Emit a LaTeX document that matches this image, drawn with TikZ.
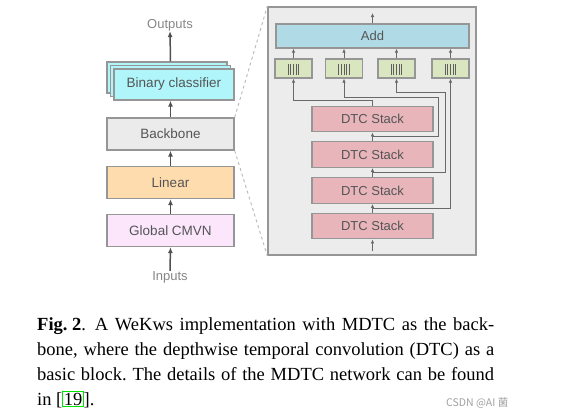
\documentclass[tikz,border=0pt]{standalone}
\usepackage{fontspec}
\setmainfont{Liberation Serif}
\newfontfamily\diagfont{Liberation Sans}
\newfontfamily\cjkfont{Noto Sans CJK SC}
\usetikzlibrary{arrows.meta,calc}
\definecolor{bordergray}{RGB}{150,150,150}
\definecolor{labelgray}{RGB}{85,85,85}
\definecolor{iogray}{RGB}{135,135,135}
\definecolor{arrgray}{RGB}{80,80,80}
\definecolor{parrgray}{RGB}{105,105,105}
\definecolor{dashgray}{RGB}{185,185,185}
\definecolor{panelgray}{RGB}{236,236,236}
\definecolor{cmvnpink}{RGB}{252,230,252}
\definecolor{linorange}{RGB}{254,220,174}
\definecolor{bbgray}{RGB}{235,235,235}
\definecolor{bccyan}{RGB}{175,245,250}
\definecolor{addblue}{RGB}{176,219,230}
\definecolor{grnbox}{RGB}{217,230,192}
\definecolor{dtcpink}{RGB}{232,181,187}
\definecolor{tickgray}{RGB}{95,95,95}
\definecolor{linkgreen}{RGB}{0,230,0}
\definecolor{wmgray}{RGB}{160,160,160}
\begin{document}
\frenchspacing
\begin{tikzpicture}[x=1pt,y=-1pt,
  box/.style={draw=bordergray, line width=1.4pt, inner sep=0pt,
    font=\diagfont\fontsize{13.5}{15}\selectfont, text=labelgray},
  leftbox/.style={box, minimum width=127pt, minimum height=32pt},
  bcbox/.style={box, fill=bccyan, minimum width=120pt, minimum height=31pt},
  iotext/.style={inner sep=0pt, font=\diagfont\fontsize{13}{15}\selectfont, text=iogray},
  larr/.style={draw=arrgray, line width=1.5pt, -{Latex[length=6pt,width=5pt]}},
  parr/.style={draw=parrgray, line width=1pt, -{Latex[length=4pt,width=3.6pt]}},
  dtcbox/.style={box, fill=dtcpink, minimum width=121pt, minimum height=25.5pt, font=\diagfont\fontsize{13}{15}\selectfont},
  gbox/.style={box, fill=grnbox, minimum width=37pt, minimum height=19pt},
  captext/.style={anchor=base west, inner sep=0pt, font=\fontsize{18.5}{25}\selectfont}
]
\useasboundingbox[fill=white] (0,0) rectangle (574,416);

% ---------- left column ----------
\node[leftbox, fill=cmvnpink] (cmvn) at (170.5,230.5) {Global CMVN};
\node[leftbox, fill=linorange] (lin) at (170.5,182.5) {Linear};
\node[leftbox, fill=bbgray] (bb) at (170.5,134) {Backbone};
\node[bcbox] (bc3) at (167,77.5) {};
\node[bcbox] (bc2) at (170.5,81) {};
\node[bcbox] (bc1) at (174,84.5) {Binary classifier};
\node[iotext] (outp) at (170,25) {Outputs};
\node[iotext] (inp) at (170,277) {Inputs};

\draw[larr] (inp.north) -- (cmvn.south);
\draw[larr] (cmvn.north) -- (lin.south);
\draw[larr] (lin.north) -- (bb.south);
\draw[larr] (bb.north) -- (bb.north |- bc1.south);
\draw[larr] (bb.north |- bc3.north) -- (outp.south);

% ---------- panel ----------
\node[draw=bordergray, line width=1.4pt, fill=panelgray, minimum width=208pt, minimum height=248pt, inner sep=0pt] (panel) at (372,131) {};
\draw[dashgray, line width=0.9pt, dashed] (bb.north east) -- (panel.north west);
\draw[dashgray, line width=0.9pt, dashed] (bb.south east) -- (panel.south west);

\node[box, fill=addblue, minimum width=193pt, minimum height=24pt, font=\diagfont\fontsize{13}{15}\selectfont] (add) at (372.5,36) {Add};
\node[gbox] (g1) at (293.5,68.5) {};
\node[gbox] (g2) at (344,68.5) {};
\node[gbox] (g3) at (396.5,68.5) {};
\node[gbox] (g4) at (450.5,68.5) {};
\foreach \g in {g1,g2,g3,g4}{
  \foreach \d in {-5.4,-2.7,0,2.7,5.4}{
    \draw[tickgray, line width=0.9pt] ($(\g.center)+(\d,-4.5)$) -- ($(\g.center)+(\d,6.5)$);
  }
}
\node[dtcbox] (s1) at (372.5,119) {DTC Stack};
\node[dtcbox] (s2) at (372.5,154.5) {DTC Stack};
\node[dtcbox] (s3) at (372.5,190.5) {DTC Stack};
\node[dtcbox] (s4) at (372.5,226) {DTC Stack};

\coordinate (addout) at (372.5,13);
\coordinate (in4) at (372.5,251);
\draw[parr] (add.north) -- (addout);
\foreach \g in {g1,g2,g3,g4}{
  \draw[parr] (\g.north) -- (\g.north |- add.south);
}
\draw[parr] (in4) -- (s4.south);
\draw[parr] (s4.north) -- (s3.south);
\draw[parr] (s3.north) -- (s2.south);
\draw[parr] (s2.north) -- (s1.south);

\coordinate (b4) at ($(s4.north)!0.5!(s3.south)$);
\coordinate (b3) at ($(s3.north)!0.5!(s2.south)$);
\coordinate (b2) at ($(s2.north)!0.5!(s1.south)$);
\coordinate (r3) at (445,92.7);
\coordinate (r2) at (438,97);
\coordinate (r1) at (372.5,100.5);
\draw[parr] (b4) -| (g4.south);
\draw[parr] (b3) -| (r3) -| (g3.south);
\draw[parr] (b2) -| (r2) -| (g2.south);
\draw[parr] (s1.north) -- (r1) -| (g1.south);

% ---------- caption ----------
\node[captext] (cap1) at (37,330.7) {\makebox[457pt][s]{\textbf{Fig.\hspace{4.6pt}2}.\hspace{9pt}A WeKws implementation with MDTC as the back-}};
\node[captext] (cap2) at (37,355.5) {\makebox[457pt][s]{bone, where the depthwise temporal convolution (DTC) as a}};
\node[captext] (cap3) at (37,380.3) {\makebox[457pt][s]{basic block. The details of the MDTC network can be found}};
\node[captext] (cap4) at (37,405.1) {in [{\color{linkgreen}\fboxsep=0.4pt\fboxrule=1pt\fbox{\color{black}19}}].};
\node[anchor=base west, inner sep=0pt, text=wmgray, font=\cjkfont\fontsize{10.5}{12}\selectfont] (wm) at (446,406) {CSDN @AI 菌};
\end{tikzpicture}
\end{document}
